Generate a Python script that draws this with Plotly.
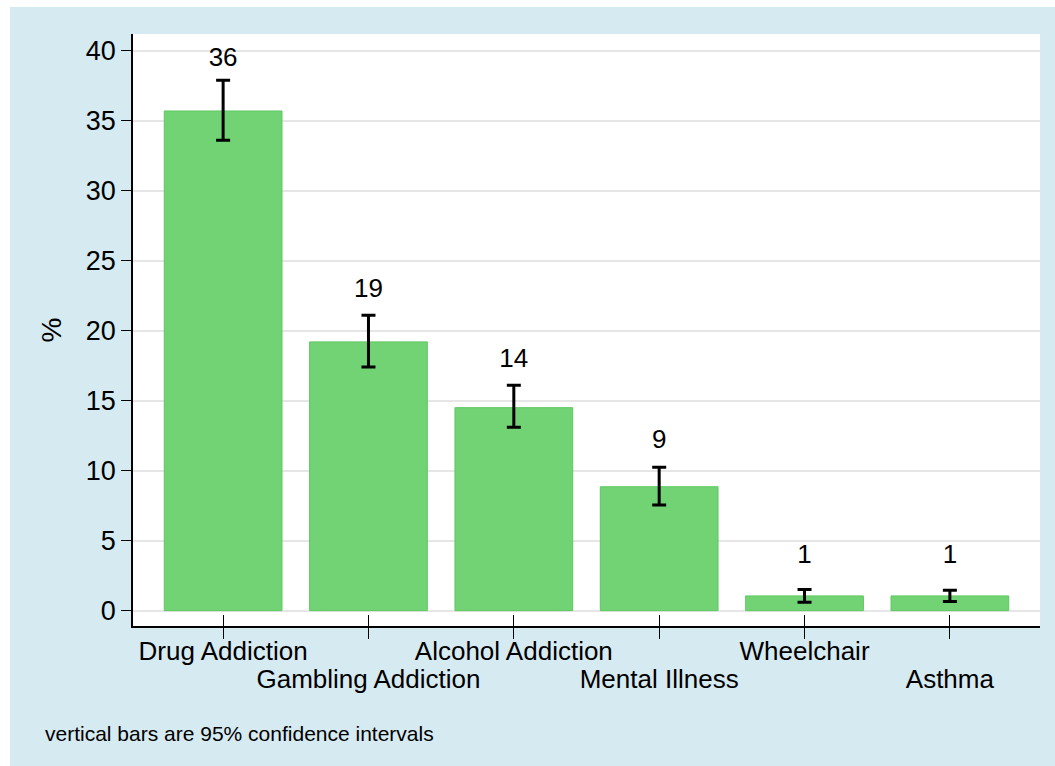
import plotly.graph_objects as go

categories = ["Drug Addiction", "Gambling Addiction", "Alcohol Addiction",
              "Mental Illness", "Wheelchair", "Asthma"]
means = [35.7, 19.2, 14.5, 8.85, 1.05, 1.05]
ci_lower = [33.6, 17.4, 13.1, 7.55, 0.6, 0.65]
ci_upper = [37.9, 21.1, 16.1, 10.25, 1.5, 1.45]
bar_labels = ["36", "19", "14", "9", "1", "1"]
label_y = [39.4, 22.9, 17.9, 12.05, 3.9, 3.9]
y_ticks = [0, 5, 10, 15, 20, 25, 30, 35, 40]
footnote = "vertical bars are 95% confidence intervals"

pos = list(range(len(categories)))
FONT = "Liberation Sans, Arial, Helvetica, sans-serif"
BLUE = "#d5eaf1"
GREEN = "#72d374"

fig = go.Figure()
fig.add_trace(go.Bar(
    x=pos, y=means, width=0.81,
    marker=dict(color=GREEN, line=dict(color="#5cc860", width=1)),
    error_y=dict(type="data", symmetric=False,
                 array=[u - m for u, m in zip(ci_upper, means)],
                 arrayminus=[m - l for m, l in zip(means, ci_lower)],
                 color="black", thickness=3, width=7),
    showlegend=False, hoverinfo="skip",
))
fig.add_trace(go.Scatter(
    x=pos, y=label_y, mode="text", text=bar_labels,
    xaxis="x2", yaxis="y",
    textposition="middle center",
    textfont=dict(family=FONT, size=26, color="black"),
    showlegend=False, hoverinfo="skip",
))

W, H = 1055, 766
ml, mr, mt, mb = 133, 15, 34, 140
pw, ph = W - ml - mr, H - mt - mb

def px(xp):
    return (xp - ml) / pw

def py(yp):
    return (H - mb - yp) / ph

xr = [-0.62, 5.62]
fig.update_layout(
    width=W, height=H,
    margin=dict(l=ml, r=mr, t=mt, b=mb, pad=0),
    paper_bgcolor="white",
    plot_bgcolor="rgba(0,0,0,0)",
    font=dict(family=FONT, color="black"),
    xaxis=dict(
        range=xr, tickmode="array", tickvals=pos,
        ticktext=[c if i % 2 == 0 else "" for i, c in enumerate(categories)],
        ticks="outside", ticklen=11, tickwidth=1, tickcolor="black",
        showline=True, linecolor="black", linewidth=1.5,
        showgrid=False, zeroline=False,
        ticklabelstandoff=-10,
        tickfont=dict(family=FONT, size=26, color="black"),
    ),
    xaxis2=dict(
        overlaying="x", anchor="y", side="bottom",
        range=xr, tickmode="array", tickvals=pos,
        ticktext=[c if i % 2 == 1 else "" for i, c in enumerate(categories)],
        ticks="inside", ticklen=11, tickwidth=1, tickcolor="black",
        showline=False, showgrid=False, zeroline=False,
        ticklabelstandoff=35,
        tickfont=dict(family=FONT, size=26, color="black"),
    ),
    yaxis=dict(
        range=[-1.1, 41.2], tickmode="array", tickvals=y_ticks,
        ticks="outside", ticklen=10, tickwidth=1, tickcolor="black",
        showline=True, linecolor="black", linewidth=1.5,
        showgrid=True, gridcolor="#e6e6e6", gridwidth=2, zeroline=False,
        tickfont=dict(family=FONT, size=27, color="black"),
        title=dict(text="%", font=dict(family=FONT, size=28, color="black"),
                   standoff=16),
    ),
    shapes=[
        dict(type="rect", xref="paper", yref="paper", layer="below",
             x0=px(10), x1=px(W), y0=py(H), y1=py(7),
             fillcolor=BLUE, line=dict(width=0)),
        dict(type="rect", xref="paper", yref="paper", layer="below",
             x0=0, x1=1, y0=0, y1=1,
             fillcolor="white", line=dict(width=0)),
    ],
    annotations=[
        dict(text=footnote, xref="paper", yref="paper",
             x=px(43), y=py(733), xanchor="left", yanchor="middle",
             showarrow=False, font=dict(family=FONT, size=21, color="black")),
    ],
)

fig.write_html("out.html")
